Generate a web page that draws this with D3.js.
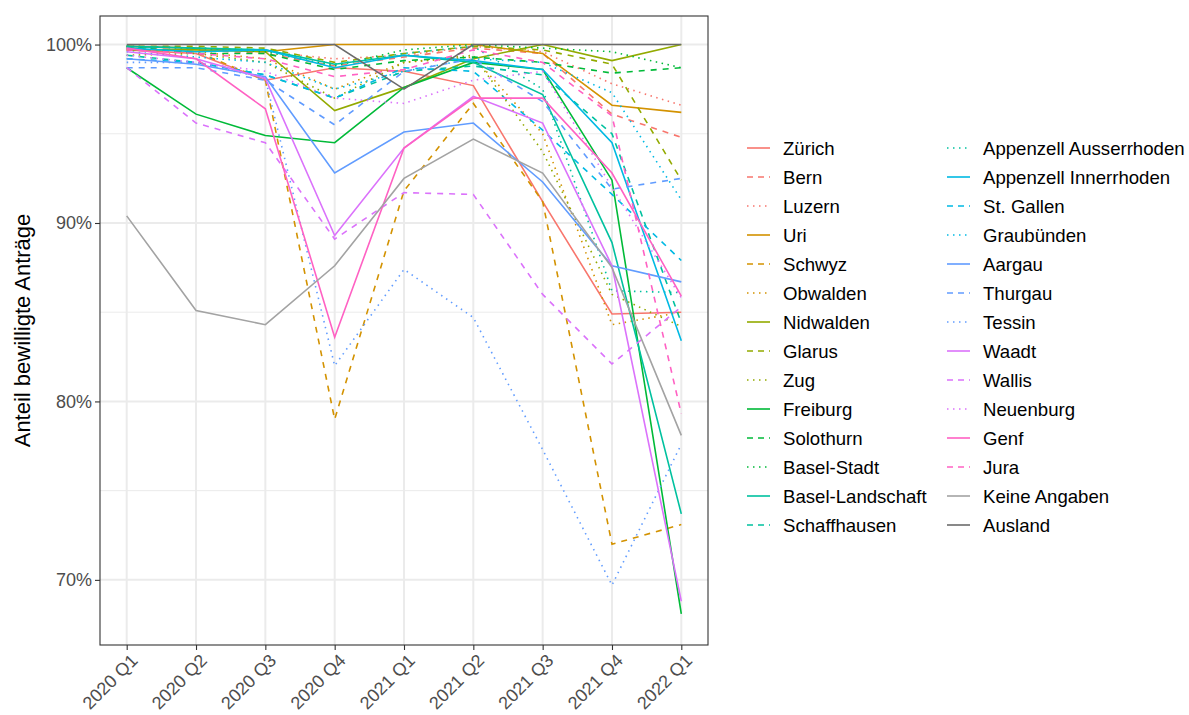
<!DOCTYPE html>
<html>
<head>
<meta charset="utf-8">
<script src="https://cdn.jsdelivr.net/npm/d3@7"></script>
<style>
  body { margin: 0; background: #fff; }
  text { font-family: "Liberation Sans", Arial, sans-serif; }
</style>
</head>
<body>
<div id="main"></div>
<script>
//quarters on the x axis
const quarters = ["2020 Q1", "2020 Q2", "2020 Q3", "2020 Q4", "2021 Q1", "2021 Q2", "2021 Q3", "2021 Q4", "2022 Q1"];

//regions in legend order
const regions = ["Zürich", "Bern", "Luzern", "Uri", "Schwyz", "Obwalden", "Nidwalden", "Glarus", "Zug",
  "Freiburg", "Solothurn", "Basel-Stadt", "Basel-Landschaft", "Schaffhausen", "Appenzell Ausserrhoden",
  "Appenzell Innerrhoden", "St. Gallen", "Graubünden", "Aargau", "Thurgau", "Tessin",
  "Waadt", "Wallis", "Neuenburg", "Genf", "Jura", "Keine Angaben", "Ausland"];

//share of approved applications in %, one row per region (same order as regions)
const shares = [
  [99.7, 99.5, 98.0, 98.7, 98.5, 97.7, 91.2, 84.9, 85.0], //Zürich
  [99.8, 99.7, 99.5, 98.8, 99.3, 99.8, 99.5, 96.1, 94.8], //Bern
  [99.9, 99.8, 99.6, 99.2, 99.4, 99.9, 99.6, 97.8, 96.6], //Luzern
  [99.9, 99.8, 99.6, 100, 100, 100, 99.5, 96.6, 96.2],    //Uri
  [99.7, 99.6, 98.0, 79.0, 91.8, 96.7, 91.2, 72.0, 73.1], //Schwyz
  [99.8, 99.6, 99.2, 97.5, 99.0, 99.3, 95.0, 84.3, 85.0], //Obwalden
  [99.7, 99.7, 99.6, 96.3, 97.6, 99.2, 100, 99.1, 100],   //Nidwalden
  [99.9, 99.9, 99.8, 99.0, 99.5, 99.9, 99.7, 98.9, 92.4], //Glarus
  [99.4, 99.5, 99.0, 97.0, 99.0, 99.4, 94.0, 86.0, 84.2], //Zug
  [98.7, 96.1, 94.9, 94.5, 97.6, 99.0, 98.6, 92.4, 68.1], //Freiburg
  [99.9, 99.5, 99.5, 98.6, 99.1, 99.3, 99.0, 98.4, 98.7], //Solothurn
  [99.9, 99.8, 99.6, 98.8, 99.7, 100, 99.8, 99.6, 98.7],  //Basel-Stadt
  [99.9, 99.8, 99.7, 98.9, 99.4, 99.0, 97.2, 88.9, 73.7], //Basel-Landschaft
  [99.4, 99.0, 98.3, 97.0, 98.5, 98.8, 98.3, 95.0, 84.4], //Schaffhausen
  [99.9, 99.8, 99.7, 98.9, 99.5, 99.9, 97.5, 86.2, 86.1], //Appenzell Ausserrhoden
  [99.8, 99.6, 99.7, 98.7, 99.4, 99.1, 98.6, 94.5, 83.4], //Appenzell Innerrhoden
  [99.2, 99.0, 98.3, 97.0, 98.7, 98.5, 95.2, 91.6, 87.9], //St. Gallen
  [99.6, 99.3, 99.0, 97.5, 98.5, 99.2, 99.0, 97.3, 91.3], //Graubünden
  [99.2, 98.9, 98.2, 92.8, 95.1, 95.6, 92.3, 87.6, 86.7], //Aargau
  [98.7, 98.7, 98.0, 95.5, 98.5, 99.2, 96.8, 91.9, 92.5], //Thurgau
  [99.0, 99.0, 98.1, 82.0, 87.4, 84.7, 77.3, 69.7, 77.6], //Tessin
  [99.6, 99.2, 98.1, 89.3, 94.2, 97.1, 95.6, 87.6, 68.8], //Waadt
  [98.7, 95.6, 94.5, 89.1, 91.7, 91.6, 86.0, 82.1, 85.3], //Wallis
  [99.4, 99.0, 98.5, 97.0, 96.7, 98.0, 98.5, 92.0, 85.8], //Neuenburg
  [99.8, 99.2, 96.4, 83.6, 94.2, 97.0, 97.0, 92.8, 85.9], //Genf
  [99.7, 99.5, 99.2, 98.2, 98.6, 99.7, 99.0, 96.0, 79.3], //Jura
  [90.4, 85.1, 84.3, 87.6, 92.5, 94.7, 92.8, 87.5, 78.1], //Keine Angaben
  [100, 100, 100, 100, 97.5, 100, 100, 100, 100]          //Ausland
];

//y tick values and labels
const yTicks = [70, 80, 90, 100];
const yMinor = [75, 85, 95];

//ggplot hue palette, three regions per colour, greys at the end
const hues = ["#F8766D", "#D39200", "#93AA00", "#00BA38", "#00C19F", "#00B9E3", "#619CFF", "#DB72FB", "#FF61C3"];
const dashes = { solid: null, dashed: "6,6", dotted: "1.5,4.5" };
const lineTypes = ["solid", "dashed", "dotted"];

function colorOf(i) {
  if (i === 26) return "#A3A3A3";
  if (i === 27) return "#6B6B6B";
  return hues[Math.floor(i / 3)];
}
function typeOf(i) {
  if (i >= 26) return "solid";
  return lineTypes[i % 3];
}

//size and panel box
const width = 1189;
const height = 715;
const panel = { left: 100, right: 708, top: 16, bottom: 645 };

const svg = d3.select('#main')
  .append('svg')
  .attr('width', width)
  .attr('height', height);

//scales
const xScale = d3.scalePoint()
  .domain(quarters)
  .range([panel.left, panel.right])
  .padding(0.385);
const yScale = d3.scaleLinear()
  .domain([66.35, 101.6])
  .range([panel.bottom, panel.top]);

//grid
const grid = svg.append('g');
grid.selectAll('.minor').data(yMinor).enter()
  .append('line')
  .attr('x1', panel.left).attr('x2', panel.right)
  .attr('y1', d => yScale(d)).attr('y2', d => yScale(d))
  .attr('stroke', '#EBEBEB').attr('stroke-width', 1);
grid.selectAll('.major').data(yTicks).enter()
  .append('line')
  .attr('x1', panel.left).attr('x2', panel.right)
  .attr('y1', d => yScale(d)).attr('y2', d => yScale(d))
  .attr('stroke', '#EBEBEB').attr('stroke-width', 2);
grid.selectAll('.vmajor').data(quarters).enter()
  .append('line')
  .attr('x1', d => xScale(d)).attr('x2', d => xScale(d))
  .attr('y1', panel.top).attr('y2', panel.bottom)
  .attr('stroke', '#EBEBEB').attr('stroke-width', 2);

//lines
const line = d3.line()
  .x((d, i) => xScale(quarters[i]))
  .y(d => yScale(d));

svg.append('g')
  .selectAll('path').data(shares).enter()
  .append('path')
  .attr('d', line)
  .attr('fill', 'none')
  .attr('stroke', (d, i) => colorOf(i))
  .attr('stroke-width', 1.6)
  .attr('stroke-dasharray', (d, i) => dashes[typeOf(i)]);

//panel border
svg.append('rect')
  .attr('x', panel.left).attr('y', panel.top)
  .attr('width', panel.right - panel.left)
  .attr('height', panel.bottom - panel.top)
  .attr('fill', 'none')
  .attr('stroke', '#333333')
  .attr('stroke-width', 1.1);

//axes
const xAxis = d3.axisBottom(xScale).tickSizeOuter(0).tickSize(5);
const yAxis = d3.axisLeft(yScale).tickValues(yTicks).tickFormat(d => d + "%").tickSizeOuter(0).tickSize(5);

const gx = svg.append('g')
  .attr('id', 'x-axis')
  .attr('transform', 'translate(0,' + panel.bottom + ')')
  .call(xAxis);
gx.select('.domain').remove();
gx.selectAll('line').attr('stroke', '#333333').attr('stroke-width', 1.1);
gx.selectAll('text')
  .attr('fill', '#4D4D4D')
  .style('font-size', '18px')
  .attr('text-anchor', 'end')
  .attr('x', 0).attr('y', 0).attr('dy', '0.75em')
  .attr('transform', 'translate(2,7) rotate(-45)');

const gy = svg.append('g')
  .attr('id', 'y-axis')
  .attr('transform', 'translate(' + panel.left + ',0)')
  .call(yAxis);
gy.select('.domain').remove();
gy.selectAll('line').attr('stroke', '#333333').attr('stroke-width', 1.1);
gy.selectAll('text')
  .attr('fill', '#4D4D4D')
  .style('font-size', '18px')
  .attr('x', -8);

//axis title
svg.append('text')
  .attr('transform', 'rotate(-90)')
  .attr('x', -(panel.top + panel.bottom) / 2)
  .attr('y', 30)
  .attr('text-anchor', 'middle')
  .style('font-size', '22px')
  .attr('fill', '#000')
  .text("Anteil bewilligte Anträge");

//legend, two columns of 14
const legend = svg.append('g')
  .selectAll('.legend-label').data(regions).enter()
  .append('g').attr('class', 'legend-label')
  .attr('transform', (d, i) => "translate(" + (747 + Math.floor(i / 14) * 200) + "," + (148 + (i % 14) * 29) + ")");

legend.append('line')
  .attr('x1', 0).attr('x2', 23)
  .attr('y1', 0).attr('y2', 0)
  .attr('stroke', (d, i) => colorOf(i))
  .attr('stroke-width', 1.6)
  .attr('stroke-dasharray', (d, i) => typeOf(i) === 'dashed' ? "6,5" : dashes[typeOf(i)]);

legend.append('text')
  .attr('x', 36)
  .attr('y', 0)
  .attr('dy', '0.36em')
  .style('font-size', '18.6px')
  .attr('fill', '#000')
  .text(d => d);
</script>
</body>
</html>
